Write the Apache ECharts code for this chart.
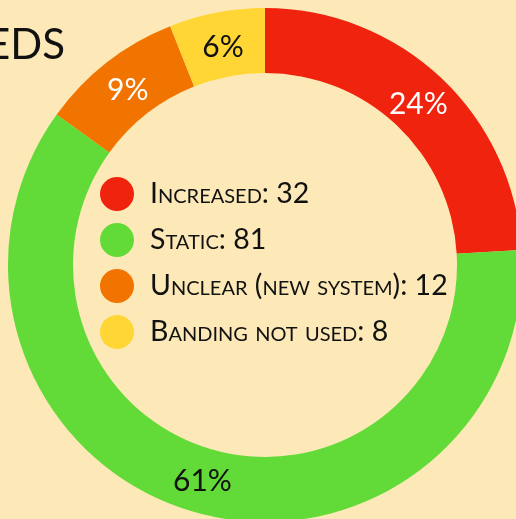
<!DOCTYPE html>
<html><head><meta charset="utf-8">
<style>html,body{margin:0;padding:0;background:#fce9b7;}#c{width:516px;height:519px;}</style>
<script src="https://cdn.jsdelivr.net/npm/echarts@6/dist/echarts.min.js"></script>
</head><body><div id="c"></div>
<script>
const titleText = 'SPEEDS';
const categories = ['Increased', 'Static', 'Unclear (new system)', 'Banding not used'];
const values = [32, 81, 12, 8];
const colors = ['#f0230e', '#62da37', '#f27400', '#ffd633'];
const labelColors = ['#ffffff', '#111111', '#ffffff', '#111111'];
const FONT = 'Lato';
const CX = 265, CY = 265;

const chart = echarts.init(document.getElementById('c'));
chart.setOption({
  backgroundColor: '#fce9b7',
  animation: false,
  title: {
    text: titleText,
    right: 446,
    top: 19,
    textStyle: { fontFamily: FONT, fontSize: 42, fontWeight: 'normal', color: '#111' }
  },
  legend: {
    orient: 'vertical',
    left: 95,
    top: 172,
    icon: 'circle',
    itemWidth: 34,
    itemHeight: 34,
    itemGap: 12,
    data: categories,
    formatter: function (name) {
      const i = categories.indexOf(name);
      return name + ': ' + values[i];
    },
    textStyle: { fontFamily: FONT, fontStyle: 'small-caps', fontSize: 28.5, color: '#111', padding: [0, 0, 0, 11] }
  },
  series: [{
    type: 'pie',
    center: [CX, CY],
    radius: [192, 257],
    startAngle: 90,
    clockwise: true,
    avoidLabelOverlap: false,
    label: {
      show: true,
      position: 'inside',
      fontFamily: FONT,
      fontSize: 30,
      formatter: function (p) { return Math.round(p.percent) + '%'; }
    },
    labelLayout: function (params) {
      const r = params.labelRect;
      const mx = r.x + r.width / 2, my = r.y + r.height / 2;
      const dx = mx - CX, dy = my - CY;
      const d = Math.sqrt(dx * dx + dy * dy);
      const k = (d - 4) / d;
      return { x: CX + dx * k, y: CY + dy * k + 2 };
    },
    labelLine: { show: false },
    emphasis: { disabled: true },
    itemStyle: { borderWidth: 0 },
    data: categories.map((c, i) => ({
      name: c, value: values[i],
      itemStyle: { color: colors[i] },
      label: { color: labelColors[i] }
    }))
  }]
});
</script></body></html>
